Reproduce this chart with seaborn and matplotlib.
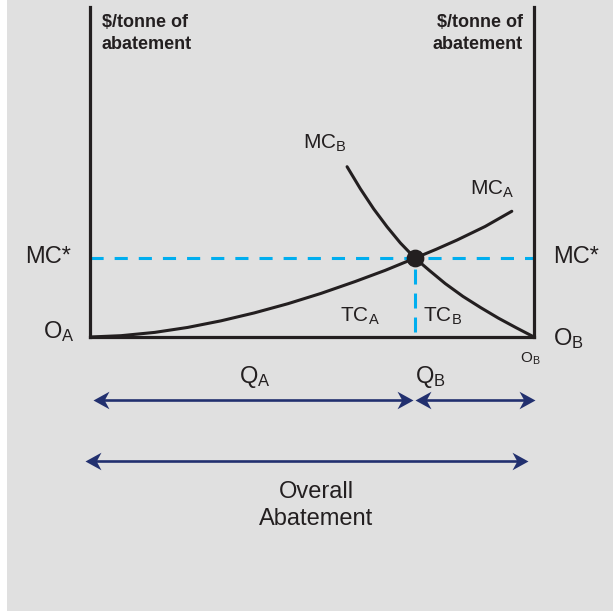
import matplotlib.pyplot as plt
import seaborn as sns
from matplotlib.patches import Rectangle
from matplotlib.path import Path

sns.set_theme(style='white')
plt.rcParams['font.family'] = ['Liberation Sans', 'DejaVu Sans']
plt.rcParams['mathtext.fontset'] = 'custom'
plt.rcParams['mathtext.rm'] = 'Liberation Sans'
plt.rcParams['mathtext.it'] = 'Liberation Sans:italic'
plt.rcParams['mathtext.bf'] = 'Liberation Sans:bold'

# abatement axis runs from O_A (0) to O_B (100), cost axis 0..100
mc_a_x = [0, 7, 14.6, 22, 29.5, 37, 44.6, 52, 59.7, 66.5, 73.2, 78, 82.7, 89, 95]
mc_a_y = [0, 0.4, 1.4, 2.9, 4.9, 7.3, 10.1, 13.2, 16.8, 20.2, 23.9, 26.6, 29.4, 33.5, 38.1]
mc_b_x = [57.9, 60.9, 63.9, 66.9, 69.9, 73.2, 76.5, 80, 84, 88, 92, 96, 100]
mc_b_y = [51.6, 44.9, 38.8, 33.4, 28.5, 23.9, 20.1, 16.2, 12.3, 8.9, 5.7, 2.8, 0]

q_a = 73.2        # firm A's share at the equilibrium
mc_star = 23.9    # common marginal cost
total = 100

black = '#231f20'
blue = '#00aeef'
navy = '#22306f'
bg = '#e0e0e0'

fig = plt.figure(figsize=(6.13, 6.11), dpi=100, facecolor=bg)
fig.add_artist(Rectangle((0, 0), 7 / 613, 1, transform=fig.transFigure,
                         facecolor='white', edgecolor='none', zorder=-1))
ax = fig.add_axes([90 / 613, (611 - 337) / 611, 444 / 613, 330 / 611])
ax.set_facecolor('none')
ax.set_xlim(0, total)
ax.set_ylim(0, 100)
ax.set_xticks([])
ax.set_yticks([])
ax.spines['top'].set_visible(False)
for s in ['left', 'right', 'bottom']:
    ax.spines[s].set_color(black)
    ax.spines[s].set_linewidth(2.3)

# MC* lines
ax.plot([0, total], [mc_star, mc_star], color=blue, lw=2.2, linestyle=(0, (4.3, 3.6)), zorder=2)
ax.plot([q_a, q_a], [1.5, mc_star], color=blue, lw=2.2, linestyle=(0, (4.9, 2.95)), zorder=2)

sns.lineplot(x=mc_a_x, y=mc_a_y, ax=ax, color=black, lw=2.2, sort=False, estimator=None,
             zorder=3, solid_joinstyle='round')
sns.lineplot(x=mc_b_x, y=mc_b_y, ax=ax, color=black, lw=2.2, sort=False, estimator=None,
             zorder=3, solid_joinstyle='round')
sns.scatterplot(x=[q_a], y=[mc_star], ax=ax, color=black, s=140, edgecolor=black, zorder=4)

# axis titles
ax.text(2.7, 93.9, '$/tonne of', fontsize=13, fontweight='bold', color=black, va='baseline')
ax.text(2.7, 87.3, 'abatement', fontsize=13, fontweight='bold', color=black, va='baseline')
ax.text(97.5, 93.9, '$/tonne of', fontsize=13, fontweight='bold', color=black, va='baseline', ha='right')
ax.text(97.5, 87.3, 'abatement', fontsize=13, fontweight='bold', color=black, va='baseline', ha='right')

lab = dict(color=black, va='baseline')
ax.text(-4.3, 22.4, 'MC*', fontsize=17, ha='right', **lab)
ax.text(104.3, 22.4, 'MC*', fontsize=17, ha='left', **lab)
ax.text(-3.4, -0.3, r'O$_\mathrm{A}$', fontsize=17, ha='right', **lab)
ax.text(104.3, -2.4, r'O$_\mathrm{B}$', fontsize=17, ha='left', **lab)
ax.text(96.8, -7.9, r'O$_\mathrm{B}$', fontsize=11, ha='left', **lab)
ax.text(48, 57, r'MC$_\mathrm{B}$', fontsize=15, ha='left', **lab)
ax.text(85.6, 43, r'MC$_\mathrm{A}$', fontsize=15, ha='left', **lab)
ax.text(56.3, 4.5, r'TC$_\mathrm{A}$', fontsize=15, ha='left', **lab)
ax.text(75, 4.5, r'TC$_\mathrm{B}$', fontsize=15, ha='left', **lab)
ax.text(33.6, -13.9, r'Q$_\mathrm{A}$', fontsize=17, ha='left', **lab)
ax.text(73.2, -13.9, r'Q$_\mathrm{B}$', fontsize=17, ha='left', **lab)
ax.text(50.9, -48.8, 'Overall', fontsize=17, ha='center', **lab)
ax.text(50.9, -57, 'Abatement', fontsize=17, ha='center', **lab)

# quantity arrows with notched heads
codes = [Path.MOVETO, Path.LINETO, Path.LINETO, Path.LINETO, Path.CLOSEPOLY]
head_r = Path([(0, 0), (-1, 0.55), (-0.7, 0), (-1, -0.55), (0, 0)], codes)
head_l = Path([(0, 0), (1, 0.55), (0.7, 0), (1, -0.55), (0, 0)], codes)


def double_arrow(x0, x1, y):
    ax.plot([x0 + 1.5, x1 - 1.5], [y, y], color=navy, lw=1.9, solid_capstyle='butt', clip_on=False)
    ax.plot([x0], [y], marker=head_l, ms=23, color=navy, mew=0, clip_on=False)
    ax.plot([x1], [y], marker=head_r, ms=23, color=navy, mew=0, clip_on=False)


double_arrow(0.7, q_a - 0.5, -19.1)
double_arrow(q_a, total + 0.2, -19.1)
double_arrow(-1.1, 98.6, -37.6)

fig.savefig('out.png', dpi=100, facecolor=bg)
